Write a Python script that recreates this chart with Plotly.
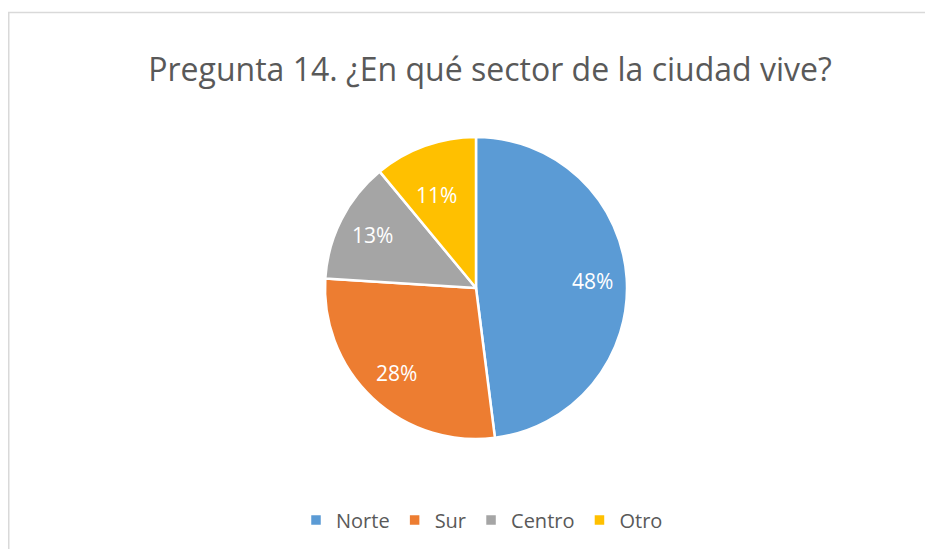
import numpy as np
import plotly.graph_objects as go

# Datos
sectores = ["Norte", "Sur", "Centro", "Otro"]
porcentajes = [48, 28, 13, 11]
colores = ["#5B9BD5", "#ED7D31", "#A5A5A5", "#FFC000"]

W, H = 933, 549
# page body has an 8px margin, so coordinates below are shifted by -8
cx, cy, r = 468, 280, 151

fig = go.Figure()

fig.add_trace(go.Pie(
    labels=sectores,
    values=porcentajes,
    marker=dict(colors=colores, line=dict(color="white", width=2.5)),
    sort=False,
    direction="clockwise",
    rotation=0,
    textinfo="none",
    domain=dict(x=[(cx - r) / W, (cx + r) / W], y=[1 - (cy + r) / H, 1 - (cy - r) / H]),
    hoverinfo="label+percent",
))

# excel style "best fit" labels, placed at ~0.77 of the radius on the slice midline
total = sum(porcentajes)
acum = np.cumsum([0] + porcentajes[:-1])
for v, a in zip(porcentajes, acum):
    ang = 2 * np.pi * (a + v / 2) / total
    px = cx + 0.77 * r * np.sin(ang)
    py = cy - 0.77 * r * np.cos(ang)
    fig.add_annotation(x=px / W, y=1 - py / H, xref="paper", yref="paper",
                       text=f"{v / total:.0%}", showarrow=False,
                       font=dict(family="Open Sans", size=21, color="white"))

# chart border (light gray, like excel)
fig.add_shape(type="rect", xref="paper", yref="paper",
              x0=0.75 / W, x1=1.2, y0=-0.2, y1=1 - 4.5 / H,
              line=dict(color="#D9D9D9", width=1.5), fillcolor="rgba(0,0,0,0)")

fig.update_layout(
    width=W,
    height=H,
    margin=dict(l=0, r=0, t=0, b=0),
    paper_bgcolor="white",
    plot_bgcolor="white",
    title=dict(
        text="Pregunta 14. ¿En qué sector de la ciudad vive?",
        x=482 / W, xanchor="center",
        y=1 - 62 / H, yanchor="middle",
        font=dict(family="Open Sans", size=32, color="#595959"),
    ),
    legend=dict(
        orientation="h",
        x=474 / W, xanchor="center",
        y=1 - 512 / H, yanchor="middle",
        font=dict(family="Open Sans", size=20, color="#595959"),
        itemwidth=30,
    ),
)

fig.write_html("out.html")
